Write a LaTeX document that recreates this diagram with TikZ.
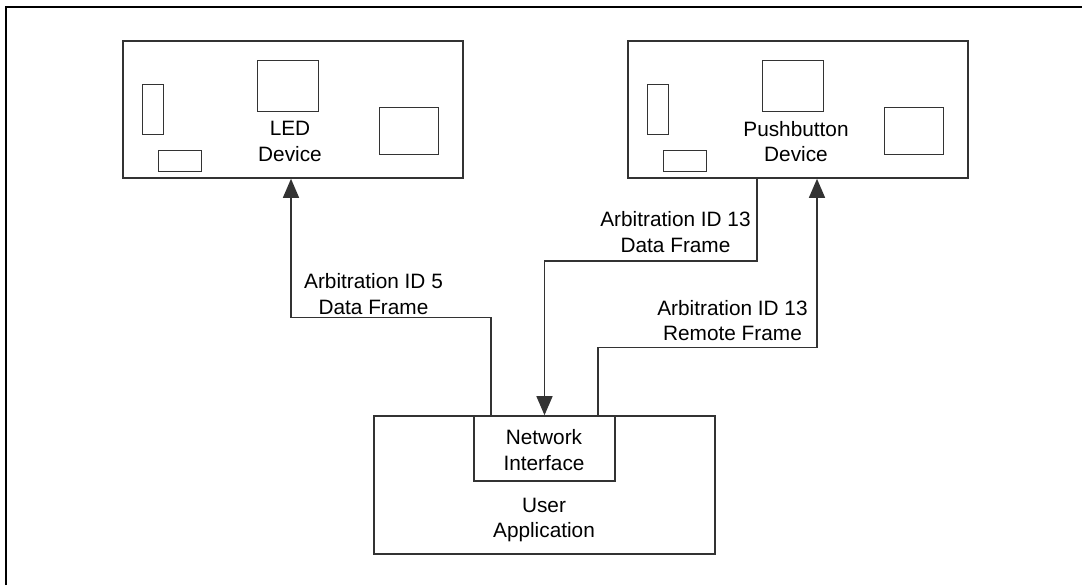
\documentclass[tikz,border=0pt]{standalone}
\usepackage{fontspec}
\setmainfont{Liberation Sans}
\usetikzlibrary{arrows.meta}

\tikzset{
	box/.style={draw=black!80,line width=0.8pt,inner sep=0pt},
	part/.style={draw=black!80,line width=0.7pt},
	conn/.style={draw=black!80,line width=0.7pt,-{Triangle[length=9.5pt,width=8pt]}},
	txt/.style={align=center,inner sep=0pt,font=\fontsize{10.4}{12.7}\selectfont}
}

\begin{document}
\begin{tikzpicture}[x=0.5pt,y=-0.5pt]
	\useasboundingbox (0,0) rectangle (1082,585);
	\draw[line width=1.2pt] (6,585) -- (6,7) -- (1082,7);

	\node[box,minimum width=170pt,minimum height=68.5pt] (led) at (293,109.5) {};
	\node[box,minimum width=170pt,minimum height=68.5pt] (pb) at (798,109.5) {};
	\foreach \dev in {led,pb}
		\foreach \a/\b/\w/\h in {20/44/21/50,36/110/43/21,135/20/61/51,257/67/59/47}
			\draw[part] ([shift={(\a,\b)}]\dev.north west) rectangle ++(\w,\h);

	\node[txt] (ledtxt) at (290,141.5) {LED\\Device};
	\node[txt] (pbtxt) at (796,141.5) {Pushbutton\\Device};

	\node[box,minimum width=170.5pt,minimum height=69pt] (app) at (544.5,485) {};
	\node[box,minimum width=70.5pt,minimum height=32.5pt] (net) at (544.5,448.5) {};
	\node[txt] (nettxt) at (544,450) {Network\\Interface};
	\node[txt] (apptxt) at (544,520) {User\\Application};

	\draw[conn] (net.north -| 491,0) -- ++(0,-98) -| (led.south -| 291,0);
	\draw[conn] (pb.south -| 757,0) -- ++(0,82) -| (net.north);
	\draw[conn] (net.north -| 598,0) -- ++(0,-68) -| (pb.south -| 817,0);

	\node[txt] (id5) at (373.5,294) {Arbitration ID 5\\Data Frame};
	\node[txt] (id13d) at (675.5,232) {Arbitration ID 13\\Data Frame};
	\node[txt] (id13r) at (732.5,320.5) {Arbitration ID 13\\Remote Frame};
\end{tikzpicture}
\end{document}
